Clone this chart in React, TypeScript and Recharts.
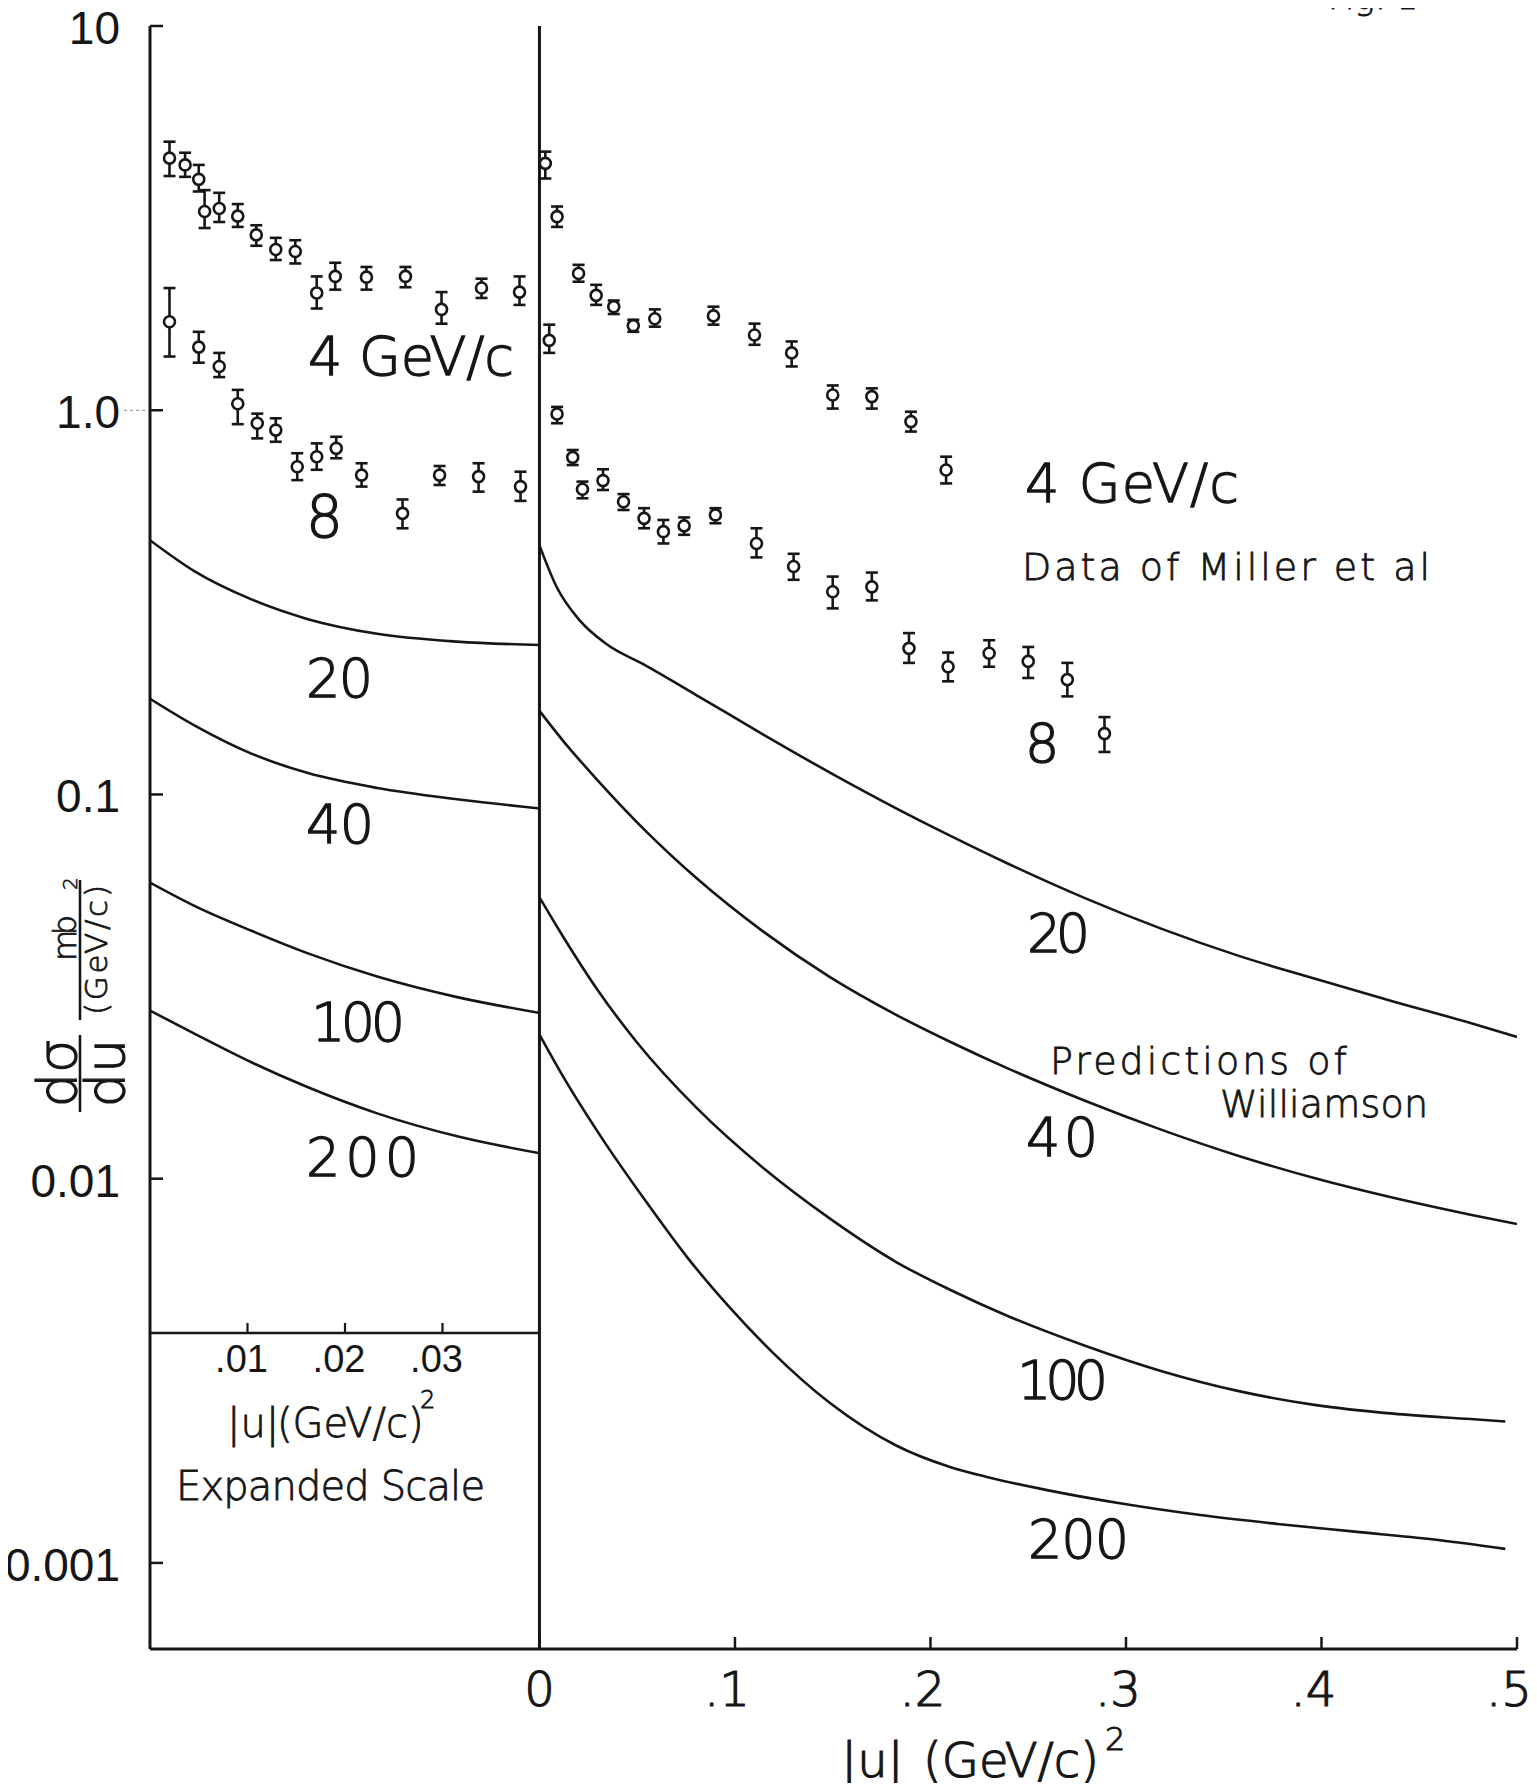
import React from "react";
import { ComposedChart, Line, Scatter, XAxis, YAxis, ErrorBar, ReferenceLine } from "recharts";

const INK = "#161616";
const NUM_FONT = "'Liberation Sans', Arial, sans-serif";
const TXT_FONT = "'DejaVu Sans', sans-serif";

// axis ticks
const yTicks = [10, 1, 0.1, 0.01, 0.001];
const yTickLabels = ["10", "1.0", "0.1", "0.01", "0.001"];
const uTicks = [0, 0.1, 0.2, 0.3, 0.4, 0.5];
const uTickLabels = ["0", ".1", ".2", ".3", ".4", ".5"];
const expTicks = [0.01, 0.02, 0.03];
const expTickLabels = [".01", ".02", ".03"];

// expanded scale (left panel), data of Miller et al, 4 GeV/c
const exp4U = [0.002, 0.0036, 0.005, 0.0056, 0.0071, 0.009, 0.0109, 0.0129, 0.0149, 0.0171, 0.019, 0.0222, 0.0262, 0.0299, 0.034, 0.0379];
const exp4V = [4.53, 4.35, 3.99, 3.29, 3.35, 3.2, 2.86, 2.62, 2.59, 2.02, 2.23, 2.22, 2.23, 1.83, 2.08, 2.03];
const exp4Lo = [4.07, 4.05, 3.71, 2.98, 3.09, 3.0, 2.68, 2.46, 2.41, 1.84, 2.06, 2.06, 2.09, 1.68, 1.96, 1.88];
const exp4Hi = [5.0, 4.68, 4.35, 3.74, 3.68, 3.44, 3.03, 2.81, 2.77, 2.23, 2.42, 2.36, 2.36, 2.03, 2.2, 2.23];

// expanded scale, 8 GeV/c
const exp8U = [0.002, 0.005, 0.0071, 0.009, 0.011, 0.0129, 0.0151, 0.0171, 0.0191, 0.0217, 0.0259, 0.0297, 0.0337, 0.038];
const exp8V = [1.7, 1.46, 1.3, 1.04, 0.925, 0.888, 0.713, 0.757, 0.796, 0.678, 0.539, 0.678, 0.672, 0.633];
const exp8Lo = [1.38, 1.33, 1.22, 0.92, 0.845, 0.828, 0.658, 0.7, 0.75, 0.633, 0.493, 0.639, 0.614, 0.581];
const exp8Hi = [2.08, 1.6, 1.41, 1.13, 0.98, 0.953, 0.773, 0.82, 0.853, 0.728, 0.586, 0.716, 0.728, 0.692];

// full scale, 4 GeV/c
const main4U = [0.003, 0.009, 0.02, 0.029, 0.038, 0.048, 0.059, 0.089, 0.11, 0.129, 0.15, 0.17, 0.19, 0.208];
const main4V = [4.39, 3.19, 2.27, 1.99, 1.86, 1.66, 1.73, 1.76, 1.57, 1.41, 1.096, 1.085, 0.934, 0.699];
const main4Lo = [4.01, 3.0, 2.16, 1.88, 1.78, 1.6, 1.65, 1.67, 1.48, 1.3, 1.01, 1.01, 0.88, 0.645];
const main4Hi = [4.71, 3.39, 2.39, 2.12, 1.93, 1.72, 1.83, 1.86, 1.68, 1.51, 1.16, 1.14, 0.991, 0.757];

// full scale, 8 GeV/c
const main8U = [0.005, 0.009, 0.017, 0.022, 0.0325, 0.043, 0.0535, 0.0634, 0.074, 0.09, 0.111, 0.13, 0.15, 0.17, 0.189, 0.209, 0.23, 0.25, 0.27, 0.289];
const main8V = [1.52, 0.978, 0.754, 0.623, 0.656, 0.578, 0.523, 0.483, 0.5, 0.534, 0.45, 0.392, 0.337, 0.347, 0.24, 0.215, 0.233, 0.222, 0.199, 0.144];
const main8Lo = [1.41, 0.925, 0.72, 0.59, 0.62, 0.55, 0.493, 0.45, 0.474, 0.508, 0.414, 0.362, 0.305, 0.32, 0.22, 0.197, 0.215, 0.201, 0.18, 0.129];
const main8Hi = [1.67, 1.02, 0.788, 0.652, 0.702, 0.605, 0.556, 0.518, 0.526, 0.556, 0.493, 0.423, 0.369, 0.378, 0.263, 0.234, 0.252, 0.242, 0.22, 0.159];

// predictions of Williamson, expanded scale
const expCurveU = [0, 0.0045, 0.0104, 0.0162, 0.0233, 0.0315, 0.04];
const exp20 = [0.459, 0.382, 0.322, 0.286, 0.262, 0.25, 0.245];
const exp40 = [0.1775, 0.1516, 0.1278, 0.1137, 0.104, 0.0972, 0.092];
const exp100 = [0.059, 0.0514, 0.0442, 0.0386, 0.0336, 0.0297, 0.027];
const exp200 = [0.0274, 0.0239, 0.0201, 0.0173, 0.0148, 0.0129, 0.01165];

// predictions of Williamson, full scale
const main20U = [0, 0.0088, 0.0207, 0.0344, 0.0531, 0.0804, 0.1145, 0.1486, 0.1827, 0.21, 0.2392, 0.2787, 0.3183, 0.3577, 0.3972, 0.4367, 0.4762, 0.5];
const main20 = [0.445, 0.3467, 0.2834, 0.246, 0.2183, 0.1812, 0.1432, 0.114, 0.0919, 0.0781, 0.0662, 0.0538, 0.04468, 0.03801, 0.03308, 0.02893, 0.02542, 0.02339];
const main40U = [0, 0.0122, 0.0293, 0.0548, 0.0804, 0.1145, 0.1486, 0.1827, 0.21, 0.2392, 0.2787, 0.3183, 0.3577, 0.3972, 0.4367, 0.4762, 0.5];
const main40 = [0.165, 0.1377, 0.1095, 0.0799, 0.0605, 0.04395, 0.03347, 0.02666, 0.02272, 0.0194, 0.01598, 0.0134, 0.01146, 0.01001, 0.00892, 0.00806, 0.00762];
const main100U = [0, 0.0122, 0.0293, 0.0497, 0.0804, 0.1145, 0.1486, 0.1827, 0.21, 0.2392, 0.2787, 0.3183, 0.3577, 0.3972, 0.4367, 0.4762, 0.494];
const main100 = [0.054, 0.04257, 0.03121, 0.02269, 0.01528, 0.01066, 0.00787, 0.00606, 0.00514, 0.0044, 0.00368, 0.003155, 0.0028, 0.002574, 0.002446, 0.002368, 0.002334];
const main200U = [0, 0.0122, 0.0326, 0.0548, 0.0753, 0.0974, 0.1196, 0.1486, 0.1827, 0.21, 0.2294, 0.259, 0.2985, 0.338, 0.3775, 0.417, 0.4565, 0.494];
const main200 = [0.0237, 0.0184, 0.0126, 0.00868, 0.00627, 0.004617, 0.003516, 0.002607, 0.002018, 0.001777, 0.001671, 0.001549, 0.001425, 0.001332, 0.001263, 0.001206, 0.001152, 0.001088];

const W = 1537;
const H = 1791;

const toPoints = (u: number[], v: number[], lo: number[], hi: number[]) =>
  u.map((x, i) => ({ u: x, v: v[i], err: [v[i] - lo[i], hi[i] - v[i]] }));
const toCurve = (u: number[], v: number[]) => u.map((x, i) => ({ u: x, v: v[i] }));

const idx = (list: number[], val: number) => list.findIndex((t) => Math.abs(t - val) < 1e-9);

function YTick({ x, y, payload }: any) {
  const i = idx(yTicks, payload.value);
  return (
    <g>
      <line x1={x} y1={y} x2={x + 13} y2={y} stroke={INK} strokeWidth={2.5} />
      {payload.value === 1 && (
        <line x1={x - 26} y1={y} x2={x - 2} y2={y} stroke="#888" strokeWidth={1.2} strokeDasharray="3 3" />
      )}
      <text x={x - 30} y={y + 18} textAnchor="end" fontSize={46} fontFamily={NUM_FONT} fill={INK}>
        {yTickLabels[i]}
      </text>
    </g>
  );
}

function UTick({ x, y, payload }: any) {
  const i = idx(uTicks, payload.value);
  return (
    <g>
      <line x1={x} y1={y} x2={x} y2={y - 12} stroke={INK} strokeWidth={2.5} />
      <text
        x={i === 0 ? x : x - 8}
        y={y + 57}
        textAnchor="middle"
        fontSize={48}
        fontFamily={TXT_FONT}
        fontWeight={300}
        fill={INK}
        stroke={INK}
        strokeWidth={1.2}
      >
        {uTickLabels[i]}
      </text>
    </g>
  );
}

function ExpTick({ x, y, payload }: any) {
  const i = idx(expTicks, payload.value);
  return (
    <g>
      <line x1={x} y1={y} x2={x} y2={y - 10} stroke={INK} strokeWidth={2.2} />
      <text x={x - 6} y={y + 39} textAnchor="middle" fontSize={38} fontFamily={NUM_FONT} fill={INK}>
        {expTickLabels[i]}
      </text>
    </g>
  );
}

const Ring = (p: any) => <circle cx={p.cx} cy={p.cy} r={5.5} fill="#fff" stroke={INK} strokeWidth={2.6} />;

const curveProps = {
  type: "monotone" as const,
  dataKey: "v",
  stroke: INK,
  strokeWidth: 2.6,
  dot: false,
  activeDot: false,
  isAnimationActive: false,
};

const labels = [
  { t: "4 GeV/c", x: 308, y: 375, s: 54, w: 206 },
  { t: "8", x: 306, y: 537, s: 58 },
  { t: "20", x: 306, y: 697, s: 54, w: 67 },
  { t: "40", x: 306, y: 843, s: 54, w: 68 },
  { t: "100", x: 311, y: 1041, s: 54, w: 94 },
  { t: "200", x: 306, y: 1176, s: 54, w: 113 },
  { t: "4 GeV/c", x: 1025, y: 502, s: 54, w: 214 },
  { t: "8", x: 1025, y: 762, s: 54 },
  { t: "20", x: 1027, y: 952, s: 54, w: 63 },
  { t: "40", x: 1026, y: 1156, s: 54, w: 72 },
  { t: "100", x: 1017, y: 1399, s: 54, w: 91 },
  { t: "200", x: 1028, y: 1558, s: 54, w: 101 },
  { t: "Data of Miller et al", x: 1022, y: 580, s: 38, w: 408 },
  { t: "Predictions of", x: 1050, y: 1074, s: 38, w: 297 },
  { t: "Williamson", x: 1220, y: 1117, s: 38, w: 208 },
  { t: "Expanded Scale", x: 176, y: 1500, s: 40, w: 309 },
];

export default function App() {
  const exp4 = toPoints(exp4U, exp4V, exp4Lo, exp4Hi);
  const exp8 = toPoints(exp8U, exp8V, exp8Lo, exp8Hi);
  const main4 = toPoints(main4U, main4V, main4Lo, main4Hi);
  const main8 = toPoints(main8U, main8V, main8Lo, main8Hi);

  return (
    <div style={{ position: "relative", width: W, height: H, margin: "-8px 0 -8px -8px", overflow: "hidden", background: "#fff" }}>
      <div style={{ position: "absolute", left: 0, top: 0 }}>
        <ComposedChart width={W} height={H} margin={{ top: 26, right: 20, bottom: 0, left: 0 }}>
          <XAxis
            type="number"
            dataKey="u"
            domain={[-0.1992, 0.5]}
            ticks={uTicks}
            interval={0}
            allowDataOverflow
            height={142}
            tickSize={0}
            tickMargin={0}
            tickLine={false}
            axisLine={{ stroke: INK, strokeWidth: 3 }}
            tick={<UTick />}
          />
          <YAxis
            type="number"
            dataKey="v"
            scale="log"
            domain={[0.000597, 10]}
            ticks={yTicks}
            interval={0}
            allowDataOverflow
            width={150}
            tickSize={0}
            tickMargin={0}
            tickLine={false}
            axisLine={{ stroke: INK, strokeWidth: 3 }}
            tick={<YTick />}
          />
          <ReferenceLine x={0} stroke={INK} strokeWidth={3} ifOverflow="visible" />
          <Line data={toCurve(main20U, main20)} name="20" {...curveProps} />
          <Line data={toCurve(main40U, main40)} name="40" {...curveProps} />
          <Line data={toCurve(main100U, main100)} name="100" {...curveProps} />
          <Line data={toCurve(main200U, main200)} name="200" {...curveProps} />
          <Scatter data={main4} name="4 GeV/c" shape={Ring} isAnimationActive={false}>
            <ErrorBar dataKey="err" direction="y" width={6} stroke={INK} strokeWidth={2.6} isAnimationActive={false} />
          </Scatter>
          <Scatter data={main8} name="8 GeV/c" shape={Ring} isAnimationActive={false}>
            <ErrorBar dataKey="err" direction="y" width={6} stroke={INK} strokeWidth={2.6} isAnimationActive={false} />
          </Scatter>
        </ComposedChart>
      </div>

      <div style={{ position: "absolute", left: 0, top: 0 }}>
        <ComposedChart width={560} height={1393} margin={{ top: 26, right: 20, bottom: 0, left: 0 }}>
          <XAxis
            type="number"
            dataKey="u"
            domain={[0, 0.04]}
            ticks={expTicks}
            interval={0}
            allowDataOverflow
            height={60}
            tickSize={0}
            tickMargin={0}
            tickLine={false}
            axisLine={{ stroke: INK, strokeWidth: 2.6 }}
            tick={<ExpTick />}
          />
          <YAxis
            type="number"
            dataKey="v"
            scale="log"
            domain={[0.003969, 10]}
            allowDataOverflow
            width={150}
            tick={false}
            tickLine={false}
            axisLine={false}
          />
          <Line data={toCurve(expCurveU, exp20)} name="20e" {...curveProps} />
          <Line data={toCurve(expCurveU, exp40)} name="40e" {...curveProps} />
          <Line data={toCurve(expCurveU, exp100)} name="100e" {...curveProps} />
          <Line data={toCurve(expCurveU, exp200)} name="200e" {...curveProps} />
          <Scatter data={exp4} name="4 GeV/c exp" shape={Ring} isAnimationActive={false}>
            <ErrorBar dataKey="err" direction="y" width={6} stroke={INK} strokeWidth={2.6} isAnimationActive={false} />
          </Scatter>
          <Scatter data={exp8} name="8 GeV/c exp" shape={Ring} isAnimationActive={false}>
            <ErrorBar dataKey="err" direction="y" width={6} stroke={INK} strokeWidth={2.6} isAnimationActive={false} />
          </Scatter>
        </ComposedChart>
      </div>

      <svg width={W} height={H} style={{ position: "absolute", left: 0, top: 0, pointerEvents: "none" }}>
        <g fill={INK} stroke={INK} fontFamily={TXT_FONT} fontWeight={300}>
          {labels.map((l, i) => (
            <text
              key={i}
              x={l.x}
              y={l.y}
              fontSize={l.s}
              strokeWidth={l.s > 45 ? 1.3 : 0.8}
              textLength={l.w}
              lengthAdjust={l.w ? "spacing" : undefined}
            >
              {l.t}
            </text>
          ))}
          <text x={1328} y={9} fontSize={34} strokeWidth={0.8}>Fig. 1</text>

          {/* expanded axis title */}
          <text x={227} y={1437} fontSize={40} strokeWidth={0.8}>
            <tspan>|u|</tspan>
            <tspan x={277}>(GeV/c)</tspan>
          </text>
          <text x={420} y={1408} fontSize={24} strokeWidth={0.8}>2</text>

          {/* main axis title */}
          <text x={841} y={1777} fontSize={48} strokeWidth={1.2}>
            <tspan>|u|</tspan>
            <tspan x={923}>(GeV/c)</tspan>
          </text>
          <text x={1105} y={1750} fontSize={32} strokeWidth={1}>2</text>

          {/* y axis title */}
          <g transform="translate(80,0) rotate(-90)" strokeWidth={1.2}>
            <text x={-1073} y={-4} fontSize={54} textAnchor="middle">dσ</text>
            <line x1={-1112} y1={0} x2={-1035} y2={0} strokeWidth={2.6} />
            <text x={-1073} y={44} fontSize={54} textAnchor="middle">du</text>
            <text x={-938} y={-4} fontSize={32} textAnchor="middle" textLength={46} lengthAdjust="spacing" strokeWidth={0.8}>mb</text>
            <line x1={-1020} y1={0} x2={-880} y2={0} strokeWidth={2.6} />
            <text x={-1015} y={27} fontSize={31} textLength={130} lengthAdjust="spacing" strokeWidth={0.8}>(GeV/c)</text>
            <text x={-890} y={-3} fontSize={20} strokeWidth={0.6}>2</text>
          </g>
        </g>
      </svg>
    </div>
  );
}
